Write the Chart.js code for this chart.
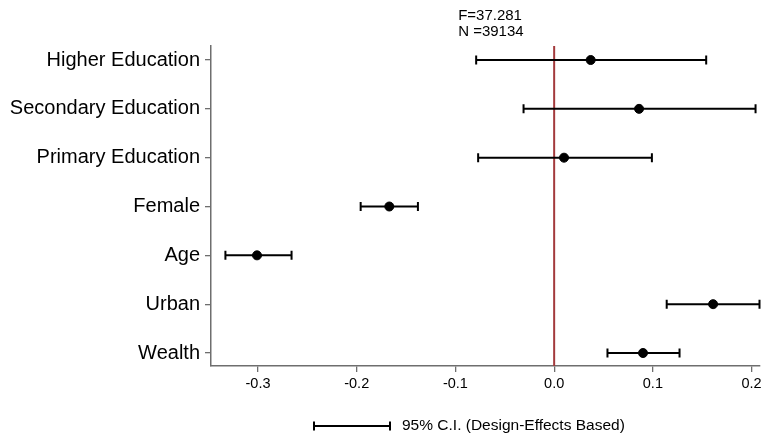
<!DOCTYPE html>
<html lang="en">
<head>
  <meta charset="UTF-8" />
  <title>Coefficient plot</title>
  <script src="https://cdn.jsdelivr.net/npm/chart.js"></script>
  <style>
    body { margin: 0; background: #ffffff; }
    #wrap { width: 765px; height: 436px; }
  </style>
</head>
<body>
  <div id="wrap"><canvas id="coefChart"></canvas></div>

  <script>
    // categories, top to bottom
    const categories = ['Higher Education', 'Secondary Education', 'Primary Education', 'Female', 'Age', 'Urban', 'Wealth'];
    const estimates = [0.037, 0.086, 0.010, -0.167, -0.301, 0.161, 0.090];
    const lower = [-0.079, -0.031, -0.077, -0.196, -0.333, 0.114, 0.054];
    const upper = [0.154, 0.204, 0.099, -0.138, -0.266, 0.208, 0.127];
    const xTicks = [-0.3, -0.2, -0.1, 0.0, 0.1, 0.2];
    const statLines = ['F=37.281', 'N =39134'];
    const legendText = '95% C.I. (Design-Effects Based)';

    const FONT = 'Liberation Sans, Arial, sans-serif';
    const axisColor = '#6e6e6e';

    // horizontal CI bars + red reference line at zero
    const ciPlugin = {
      id: 'ciBars',
      beforeDatasetsDraw(chart) {
        const ctx = chart.ctx;
        const xs = chart.scales.x, ys = chart.scales.y;
        const area = chart.chartArea;
        ctx.save();
        // zero line
        const x0 = xs.getPixelForValue(0);
        ctx.strokeStyle = '#a33a3c';
        ctx.lineWidth = 2;
        ctx.beginPath();
        ctx.moveTo(x0, area.top);
        ctx.lineTo(x0, area.bottom);
        ctx.stroke();
        // bars
        ctx.strokeStyle = '#000';
        ctx.lineWidth = 2;
        categories.forEach((c, i) => {
          const y = ys.getPixelForValue(i);
          const a = xs.getPixelForValue(lower[i]);
          const b = xs.getPixelForValue(upper[i]);
          ctx.beginPath();
          ctx.moveTo(a, y); ctx.lineTo(b, y);
          ctx.moveTo(a, y - 4.5); ctx.lineTo(a, y + 4.5);
          ctx.moveTo(b, y - 4.5); ctx.lineTo(b, y + 4.5);
          ctx.stroke();
        });
        ctx.restore();
      },
      afterDraw(chart) {
        const ctx = chart.ctx;
        const area = chart.chartArea;
        const xs = chart.scales.x;
        ctx.save();
        ctx.fillStyle = '#000';
        ctx.font = '15px ' + FONT;
        ctx.textBaseline = 'middle';
        ctx.textAlign = 'left';
        // stats label above the zero line
        const sx = xs.getPixelForValue(0) - 96;
        ctx.fillText(statLines[0], sx, 16);
        ctx.fillText(statLines[1], sx, 32);
        // legend: CI symbol + text
        const ly = area.bottom + 60;
        const lx = 314;
        ctx.strokeStyle = '#000';
        ctx.lineWidth = 2;
        ctx.beginPath();
        ctx.moveTo(lx, ly); ctx.lineTo(lx + 76, ly);
        ctx.moveTo(lx, ly - 4.5); ctx.lineTo(lx, ly + 4.5);
        ctx.moveTo(lx + 76, ly - 4.5); ctx.lineTo(lx + 76, ly + 4.5);
        ctx.stroke();
        ctx.font = '15.5px ' + FONT;
        ctx.fillText(legendText, lx + 88, ly);
        ctx.restore();
      }
    };

    new Chart(document.getElementById('coefChart'), {
      type: 'scatter',
      data: {
        datasets: [{
          data: estimates.map((v, i) => ({ x: v, y: i })),
          backgroundColor: '#000',
          borderColor: '#000',
          pointRadius: 4.5,
          pointHoverRadius: 4.5
        }]
      },
      options: {
        responsive: true,
        maintainAspectRatio: false,
        animation: false,
        layout: { padding: { top: 46, right: 2, left: 0, bottom: 0 } },
        plugins: {
          legend: { display: false },
          tooltip: { enabled: false }
        },
        scales: {
          x: {
            type: 'linear',
            min: -0.3476,
            max: 0.208,
            afterBuildTicks(scale) { scale.ticks = xTicks.map(v => ({ value: v })); },
            afterFit(scale) { scale.height = 70; },
            ticks: {
              color: '#000',
              font: { family: FONT, size: 14.5 },
              padding: 3,
              callback: v => v.toFixed(1)
            },
            grid: { drawOnChartArea: false, tickLength: 6, color: axisColor, lineWidth: 1.3 },
            border: { color: axisColor, width: 1.5 }
          },
          y: {
            type: 'linear',
            reverse: true,
            min: -0.287,
            max: 6.266,
            afterBuildTicks(scale) { scale.ticks = categories.map((c, i) => ({ value: i })); },
            afterFit(scale) { scale.width = 211; },
            ticks: {
              color: '#000',
              font: { family: FONT, size: 20 },
              padding: 5,
              callback: v => categories[v]
            },
            grid: { drawOnChartArea: false, tickLength: 6, color: axisColor, lineWidth: 1.3 },
            border: { color: axisColor, width: 1.5 }
          }
        }
      },
      plugins: [ciPlugin]
    });
  </script>
</body>
</html>
